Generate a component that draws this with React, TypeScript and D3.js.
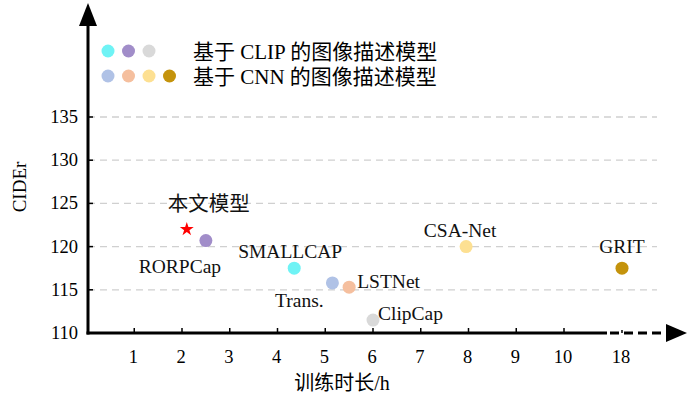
import {useRef, useEffect} from "react";
import * as d3 from "d3";

// data
const models = ["本文模型", "RORPCap", "SMALLCAP", "Trans.", "LSTNet", "ClipCap", "CSA-Net", "GRIT"];
const hours = [2.1, 2.5, 4.35, 5.15, 5.5, 6.0, 7.95, 18];
const cider = [122, 120.7, 117.5, 115.8, 115.3, 111.5, 120, 117.5];
const colors = ["red", "#a18dc9", "#6ff3f5", "#b0c2e6", "#f5bf9e", "#d9d9d9", "#fde092", "#c4930c"];
const xTicks = [1, 2, 3, 4, 5, 6, 7, 8, 9, 10, 18];
const yTicks = [110, 115, 120, 125, 130, 135];
const legendRows = ["基于 CLIP 的图像描述模型", "基于 CNN 的图像描述模型"];
const clipColors = ["#6ff3f5", "#a18dc9", "#d9d9d9"];
const cnnColors = ["#b0c2e6", "#f5bf9e", "#fde092", "#c4930c"];

// label offsets relative to point (dx, dy, anchor)
const labelPos: [number, number, string][] = [
  [22, -25, "middle"],
  [-26, 26, "middle"],
  [-4, -17, "middle"],
  [-33, 18, "middle"],
  [8, -6, "start"],
  [5, -7, "start"],
  [-6, -16, "middle"],
  [0, -22, "middle"],
];

const font = "'Liberation Serif', 'DejaVu Serif', 'Noto Sans CJK SC', serif";

export default function App() {
  const width = 687;
  const height = 396;
  const x0 = 88;
  const y0 = 333;
  const root = useRef<SVGSVGElement>(null);

  const x = d3.scaleLinear().domain([0, 10, 18]).range([86.5, 564, 622]);
  const y = d3.scaleLinear().domain([110, 135]).range([y0, 117]);

  useEffect(() => {
    const svg = d3.select(root.current);
    svg.selectAll(".marks").remove();
    const g = svg.append("g").attr("class", "marks");
    g.selectAll("circle")
      .data(models.slice(1))
      .enter()
      .append("circle")
      .attr("cx", (d, i) => x(hours[i + 1]))
      .attr("cy", (d, i) => y(cider[i + 1]))
      .attr("r", 6.5)
      .attr("fill", (d, i) => colors[i + 1]);
    g.append("path")
      .attr("d", d3.symbol(d3.symbolStar, 60)())
      .attr("transform", "translate(" + x(hours[0]) + "," + y(cider[0]) + ")")
      .attr("fill", colors[0]);
    g.selectAll("text")
      .data(models)
      .enter()
      .append("text")
      .attr("x", (d, i) => x(hours[i]) + labelPos[i][0])
      .attr("y", (d, i) => y(cider[i]) + labelPos[i][1])
      .attr("text-anchor", (d, i) => labelPos[i][2])
      .attr("dominant-baseline", "central")
      .attr("font-family", font)
      .attr("font-size", (d, i) => (i === 0 ? 20.5 : 19.5))
      .attr("fill", "#111")
      .text(d => d);
  });

  return (
    <svg ref={root} width={width} height={height} style={{position: "absolute", left: 0, top: 0, background: "#fff"}}>
      {/* grid */}
      {yTicks.slice(1).map(t => (
        <line key={t} x1={x0} x2={657} y1={y(t)} y2={y(t)} stroke="#d0d0d0" strokeWidth={1.3} strokeDasharray="7,5" />
      ))}
      {/* y axis */}
      <line x1={x0} x2={x0} y1={y0 + 1.5} y2={22} stroke="#000" strokeWidth={3} />
      <path d={`M${x0},3 L${x0 - 9},26 L${x0 + 9},26 Z`} fill="#000" />
      {yTicks.slice(1).map(t => (
        <line key={t} x1={x0} x2={x0 + 5} y1={y(t)} y2={y(t)} stroke="#000" strokeWidth={1.5} />
      ))}
      {yTicks.map(t => (
        <text key={t} x={78} y={y(t)} textAnchor="end" dominantBaseline="central" fontFamily={font} fontSize={18.5}>{t}</text>
      ))}
      {/* x axis */}
      <line x1={x0 - 1.5} x2={607} y1={y0} y2={y0} stroke="#000" strokeWidth={3} />
      <line x1={610} x2={668} y1={y0} y2={y0} stroke="#000" strokeWidth={3} strokeDasharray="9,5" />
      <path d={`M687,${y0} L666,${y0 - 9} L666,${y0 + 9} Z`} fill="#000" />
      {xTicks.map(t => (
        <line key={t} x1={x(t)} x2={x(t)} y1={y0} y2={y0 - (t === 18 ? 3 : 5)} stroke="#000" strokeWidth={1.5} />
      ))}
      {xTicks.map(t => (
        <text key={t} x={x(t) - 1} y={357} textAnchor="middle" dominantBaseline="central" fontFamily={font} fontSize={18.5}>{t}</text>
      ))}
      {/* axis titles */}
      <text x={342} y={383} textAnchor="middle" dominantBaseline="central" fontFamily={font} fontSize={20}>训练时长/h</text>
      <text transform={`translate(19,187) rotate(-90)`} textAnchor="middle" dominantBaseline="central" fontFamily={font} fontSize={19}>CIDEr</text>
      {/* legend */}
      {clipColors.map((c, i) => (
        <circle key={c} cx={108 + i * 20.5} cy={51} r={6.5} fill={c} />
      ))}
      {cnnColors.map((c, i) => (
        <circle key={c} cx={108 + i * 20.5} cy={76} r={6.5} fill={c} />
      ))}
      {legendRows.map((r, i) => (
        <text key={r} x={193} y={52 + i * 24.5} dominantBaseline="central" fontFamily={font} fontSize={21}>{r}</text>
      ))}
    </svg>
  );
}
